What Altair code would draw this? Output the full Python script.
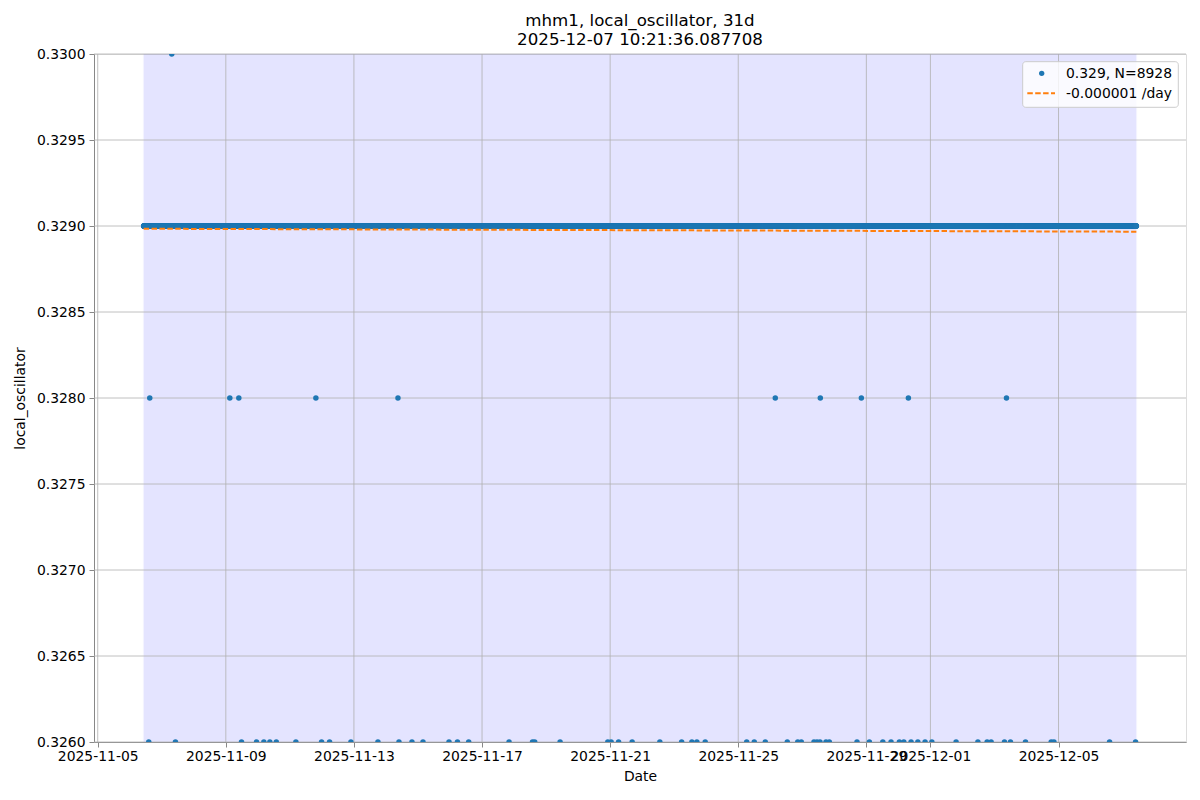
import altair as alt
import pandas as pd
import numpy as np

# ---------------- data ----------------
BASE = pd.Timestamp("2025-11-05 00:00:00")
series_start = "2025-11-06 10:25:00"     # first sample (5-minute cadence)
n_samples = 8928
baseline_value = 0.329

# outliers, as days after 2025-11-05 00:00
low_days = [1.594, 2.428, 4.491, 4.959, 5.188, 5.375, 5.575, 6.188, 6.991, 7.241,
            7.906, 8.750, 9.406, 9.813, 10.156, 10.969, 11.231, 11.584, 12.844, 13.575,
            13.647, 14.438, 15.928, 16.031, 16.263, 16.688, 17.553, 18.231, 18.553, 18.709,
            18.969, 20.263, 20.500, 20.844, 21.531, 21.856, 21.969, 22.366, 22.459, 22.553,
            22.741, 22.844, 23.709, 24.094, 24.513, 24.772, 25.031, 25.169, 25.397, 25.606,
            25.834, 26.044, 26.803, 27.481, 27.772, 27.897, 28.313, 28.500, 28.969, 29.772,
            29.856, 31.594, 32.406]
low_value = 0.326
mid_days = [1.625, 4.125, 4.406, 6.813, 9.375, 21.156, 22.563, 23.844, 25.313, 28.375]
mid_value = 0.328
high_days = [2.313]
high_value = 0.330

trend_values = [0.328984, 0.328967]      # dashed fit line, start and end
span_label = "0.329, N=8928"
trend_label = "-0.000001 /day"
title_lines = ["mhm1, local_oscillator, 31d", "2025-12-07 10:21:36.087708"]

x_tick_dates = ["2025-11-05", "2025-11-09", "2025-11-13", "2025-11-17", "2025-11-21",
                "2025-11-25", "2025-11-29", "2025-12-01", "2025-12-05"]
y_ticks = [0.3260, 0.3265, 0.3270, 0.3275, 0.3280, 0.3285, 0.3290, 0.3295, 0.3300]

# ---------------- build tables ----------------
times = pd.date_range(series_start, periods=n_samples, freq="5min")
vals = np.full(n_samples, baseline_value)
for days, v in ((low_days, low_value), (mid_days, mid_value), (high_days, high_value)):
    for d in days:
        t = BASE + pd.to_timedelta(d, unit="D")
        idx = int(np.argmin(np.abs((times - t).total_seconds())))
        vals[idx] = v

def iso(ts):
    return pd.Timestamp(ts).strftime("%Y-%m-%dT%H:%M:%SZ")

df = pd.DataFrame({"t": [iso(t) for t in times], "v": vals})

t0, t1 = times[0], times[-1]
margin = (t1 - t0) * 0.05
dom = [int((t0 - margin).value // 10**6), int((t1 + margin).value // 10**6)]

def ms(s):
    return int(pd.Timestamp(s).value // 10**6)

x_tick_ms = [ms(d) for d in x_tick_dates]

span_df = pd.DataFrame({"a": [iso(t0)], "b": [iso(t1)], "y0": [0.326], "y1": [0.330]})
trend_df = pd.DataFrame({"t": [iso(t0), iso(t1)], "v": trend_values})
xgrid_df = pd.DataFrame({"t": [iso(pd.Timestamp(d)) for d in x_tick_dates]})
ygrid_df = pd.DataFrame({"v": y_ticks})

FONT = "DejaVu Sans"
BLUE = "#1f77b4"
ORANGE = "#ff7f0e"
W, H = 1092, 688

xscale = alt.Scale(type="utc", domain=dom)
yscale = alt.Scale(domain=[0.326, 0.330], nice=False, zero=False)

xaxis = alt.Axis(values=x_tick_ms, labelExpr="utcFormat(datum.value, '%Y-%m-%d')",
                 labelOverlap=False, title="Date", grid=False, labelFont=FONT, titleFont=FONT,
                 labelFontSize=13.9, titleFontSize=13.9, titleFontWeight="normal",
                 labelColor="black", titleColor="black",
                 tickSize=5, labelPadding=2, titlePadding=7, labelFlush=False)
yaxis = alt.Axis(values=y_ticks, format=".4f", title="local_oscillator", grid=False,
                 labelFont=FONT, titleFont=FONT, labelColor="black", titleColor="black",
                 labelFontSize=13.9, titleFontSize=13.9, titleFontWeight="normal",
                 tickSize=5, labelPadding=4, titlePadding=9)

span = alt.Chart(span_df).mark_rect(color="blue", opacity=0.1, strokeOpacity=0.1,
                                    stroke="blue", strokeWidth=1.4).encode(
    x=alt.X("a:T", scale=xscale, axis=xaxis),
    x2="b:T",
    y=alt.Y("y0:Q", scale=yscale, axis=yaxis),
    y2="y1:Q",
)

xgrid = alt.Chart(xgrid_df).mark_rule(color="#b0b0b0", strokeWidth=0.8).encode(
    x=alt.X("t:T", scale=xscale, axis=xaxis))
ygrid = alt.Chart(ygrid_df).mark_rule(color="#b0b0b0", strokeWidth=0.8).encode(
    y=alt.Y("v:Q", scale=yscale, axis=yaxis))

points = alt.Chart(df).mark_circle(size=30, color=BLUE, opacity=1, clip=True).encode(
    x=alt.X("t:T", scale=xscale, axis=xaxis),
    y=alt.Y("v:Q", scale=yscale, axis=yaxis),
)

trend = alt.Chart(trend_df).mark_line(color=ORANGE, strokeWidth=2, strokeDash=[5.5, 2.4]).encode(
    x=alt.X("t:T", scale=xscale, axis=xaxis),
    y=alt.Y("v:Q", scale=yscale, axis=yaxis),
)

# legend (decoration)
one = pd.DataFrame({"k": [0]})
leg_box = alt.Chart(one).mark_rect(fill="white", fillOpacity=0.8, stroke="#cccccc",
                                   strokeWidth=1, cornerRadius=3).encode(
    x=alt.value(928.7), x2=alt.value(1084.3), y=alt.value(7.7), y2=alt.value(53.3))
leg_dot = alt.Chart(one).mark_circle(size=28, color=BLUE, opacity=1).encode(
    x=alt.value(947.7), y=alt.value(19.3))
leg_line = alt.Chart(one).mark_rule(color=ORANGE, strokeWidth=2, strokeDash=[5.5, 2.4]).encode(
    x=alt.value(933.3), x2=alt.value(961), y=alt.value(39.3))
leg_t1 = alt.Chart(one).mark_text(text=span_label, font=FONT, fontSize=13.9, align="left",
                                  baseline="alphabetic", color="black").encode(
    x=alt.value(972), y=alt.value(23.7))
leg_t2 = alt.Chart(one).mark_text(text=trend_label, font=FONT, fontSize=13.9, align="left",
                                  baseline="alphabetic", color="black").encode(
    x=alt.value(972), y=alt.value(43.7))

chart = alt.layer(span, xgrid, ygrid, points, trend, leg_box, leg_dot, leg_line, leg_t1, leg_t2).properties(
    width=W, height=H,
    title=alt.TitleParams(title_lines, font=FONT, fontSize=16.67, fontWeight="normal",
                          anchor="middle", color="black", offset=-2, lineHeight=19.5),
    autosize=alt.AutoSizeParams(type="none"),
    padding={"left": 86, "top": 46, "right": 6, "bottom": 46},
).configure_view(
    stroke="black", strokeWidth=1.1
).configure_axis(
    domainColor="black", domainWidth=1.1, tickColor="black", tickWidth=1.1,
    labelColor="black", titleColor="black", labelFont=FONT, titleFont=FONT,
    titleFontWeight="normal"
).configure_title(
    font=FONT, fontWeight="normal", color="black"
).configure(background="white", font=FONT)

chart.save("out.html", embed_options={"renderer": "svg", "actions": False})
